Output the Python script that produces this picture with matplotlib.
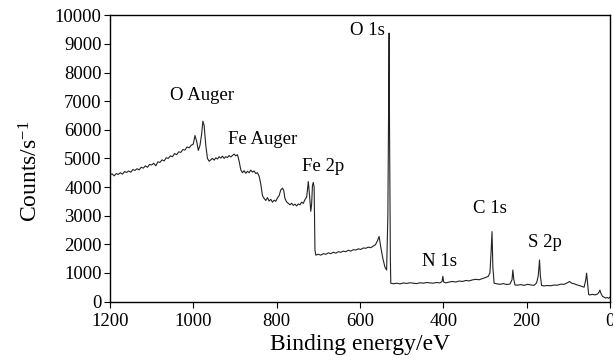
import matplotlib
matplotlib.use('Agg')
from matplotlib import pyplot as plt

# binding energy (eV) and counts
energy = [1200, 1195, 1190, 1185, 1180, 1175, 1170, 1165, 1160, 1155,
          1150, 1145, 1140, 1135, 1130, 1125, 1120, 1115, 1110, 1105,
          1100, 1095, 1090, 1085, 1080, 1075, 1070, 1065, 1060, 1055,
          1050, 1045, 1040, 1035, 1030, 1025, 1020, 1015, 1010, 1005,
          1000, 996, 992, 988, 984, 980, 977, 974, 970, 966,
          962, 958, 954, 950, 946, 942, 938, 934, 930, 926,
          922, 918, 914, 910, 906, 902, 898, 894, 890, 886,
          882, 878, 874, 870, 866, 862, 858, 854, 850, 846,
          842, 838, 834, 830, 826, 822, 818, 814, 810, 806,
          802, 798, 794, 790, 786, 783, 780, 776, 772, 768,
          764, 760, 756, 752, 748, 744, 740, 736, 732, 728,
          726, 724, 721, 718, 716, 714, 712, 710, 708, 706,
          700, 694, 688, 682, 676, 670, 664, 658, 652, 646,
          640, 634, 628, 622, 616, 610, 604, 598, 592, 586,
          580, 574, 568, 563, 558, 554, 550, 545, 540, 536,
          533, 531, 530, 529, 527, 526, 520, 512, 504, 496,
          488, 480, 472, 464, 456, 448, 440, 432, 424, 416,
          408, 403, 401, 399, 394, 386, 378, 370, 362, 354,
          346, 338, 330, 322, 314, 306, 298, 292, 288, 285,
          283, 281, 278, 272, 264, 256, 248, 240, 235, 233,
          231, 228, 222, 214, 206, 198, 190, 182, 176, 172,
          169, 167, 164, 158, 150, 142, 134, 126, 118, 110,
          102, 97, 92, 86, 80, 74, 68, 62, 58, 56,
          54, 51, 48, 42, 36, 30, 26, 24, 22, 18,
          14, 10, 6, 3, 0]
counts = [4420, 4460, 4390, 4470, 4440, 4500, 4450, 4540, 4510, 4560,
          4520, 4610, 4580, 4640, 4600, 4690, 4660, 4740, 4690, 4790,
          4770, 4830, 4740, 4880, 4860, 4950, 4910, 5020, 5000, 5090,
          5060, 5170, 5130, 5230, 5210, 5310, 5290, 5400, 5370, 5460,
          5500, 5800, 5600, 5280, 5450, 5850, 6300, 6150, 5450, 5000,
          4900, 4950, 5000, 4940, 5020, 4980, 5060, 5010, 5080, 5000,
          5060, 5030, 5100, 5050, 5100, 5150, 5090, 5130, 4900, 4600,
          4500, 4570, 4480, 4550, 4500, 4590, 4520, 4560, 4470, 4500,
          4380, 4100, 3700, 3600, 3530, 3630, 3510, 3570, 3470, 3540,
          3500, 3620, 3700, 3900, 3960, 3880, 3600, 3480, 3430, 3380,
          3430, 3360, 3400, 3340, 3410, 3380, 3470, 3430, 3560, 3650,
          3900, 4190, 3700, 3150, 3400, 4050, 4160, 4000, 1800, 1620,
          1650, 1620, 1670, 1650, 1700, 1670, 1720, 1690, 1740, 1720,
          1760, 1740, 1790, 1760, 1810, 1800, 1840, 1820, 1870, 1860,
          1900, 1880, 1940, 1980, 2120, 2270, 1900, 1500, 1200, 1100,
          3000, 7500, 9380, 6000, 1500, 640, 620, 640, 615, 650,
          630, 655, 640, 625, 655, 640, 665, 650, 640, 665,
          650, 700, 880, 680, 650, 680, 700, 680, 715, 700,
          735, 720, 755, 775, 760, 800, 840, 880, 1000, 1800,
          2440, 1200, 640, 620, 600, 625, 595, 610, 760, 1100,
          800, 580, 570, 590, 565, 600, 580, 565, 650, 900,
          1450, 900, 560, 545, 560, 550, 575, 570, 605, 600,
          655, 700, 640, 620, 585, 560, 530, 500, 760, 990,
          700, 240, 230, 250, 230, 260, 330, 400, 300, 180,
          150, 120, 140, 110, 150]

labels = ['O Auger', 'Fe Auger', 'Fe 2p', 'O 1s', 'N 1s', 'C 1s', 'S 2p']
label_x = [978, 834, 689, 581, 410, 288, 156]
label_y = [7190, 5650, 4720, 9470, 1390, 3260, 2060]

plt.rcParams['font.family'] = 'Liberation Serif'
plt.rcParams['mathtext.fontset'] = 'custom'
plt.rcParams['mathtext.rm'] = 'Liberation Serif'
plt.rcParams['mathtext.it'] = 'Liberation Serif:italic'

fig = plt.figure(figsize=(6.13, 3.6), dpi=100, facecolor='w')
ax = fig.add_axes([0.1794, 0.1625, 0.8156, 0.795])

ax.plot(energy, counts, color='#222222', linewidth=0.8)

for txt, lx, ly in zip(labels, label_x, label_y):
    ax.text(lx, ly, txt, fontsize=13.5, ha='center', va='center')

ax.set_xlim(1200, 0)
ax.set_ylim(0, 10000)
ax.set_xticks(range(1200, -1, -200))
ax.set_yticks(range(0, 10001, 1000))
ax.tick_params(direction='out', length=4, width=0.8, labelsize=13.5, pad=2)
ax.tick_params(axis='x', pad=4)
for s in ax.spines.values():
    s.set_linewidth(1.0)

ax.set_xlabel('Binding energy/eV', fontsize=17, labelpad=3)
ax.set_ylabel('Counts/s$^{-1}$', fontsize=17)
ax.yaxis.set_label_coords(-0.135, 0.456)

fig.savefig('out.png', dpi=100)
